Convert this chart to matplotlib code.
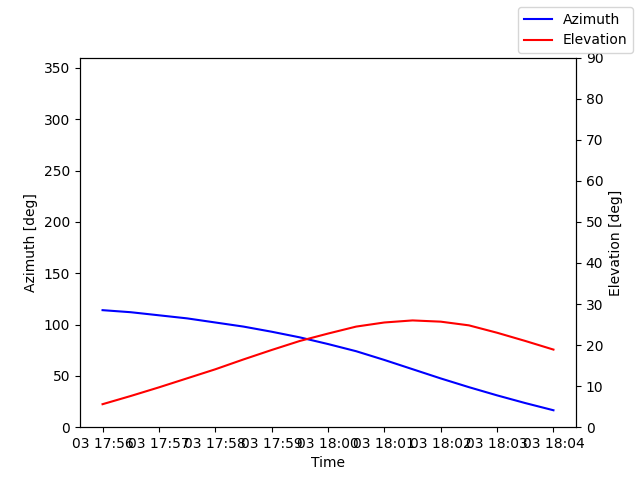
import pandas as pd
import matplotlib
matplotlib.use('Agg')
import matplotlib.pyplot as plt

# Pass samples every 30 s
times = ['17:56:00', '17:56:30', '17:57:00', '17:57:30', '17:58:00', '17:58:30',
         '17:59:00', '17:59:30', '18:00:00', '18:00:30', '18:01:00', '18:01:30',
         '18:02:00', '18:02:30', '18:03:00', '18:03:30', '18:04:00']
azimuth = [114, 112, 109, 106, 102, 98, 93, 87.5, 81, 74, 65.5, 56.5,
           47.5, 39, 31, 23.5, 16.5]
elevation = [5.6, 7.6, 9.7, 11.9, 14.1, 16.5, 18.8, 21, 22.8, 24.5, 25.5, 26,
             25.7, 24.8, 23.0, 21.0, 18.9]

t = pd.to_datetime(['2024-03-03 ' + s for s in times])

fig, ax1 = plt.subplots(figsize=(6.4, 4.8))
ax1.plot(t, azimuth, color='blue', label='Azimuth')
ax1.set_ylim(0, 360)
ax1.set_xlabel('Time')
ax1.set_ylabel('Azimuth [deg]')

ax2 = ax1.twinx()
ax2.plot(t, elevation, color='red', label='Elevation')
ax2.set_ylim(0, 90)
ax2.set_ylabel('Elevation [deg]')

fig.legend()
plt.savefig('out.png', dpi=100)
